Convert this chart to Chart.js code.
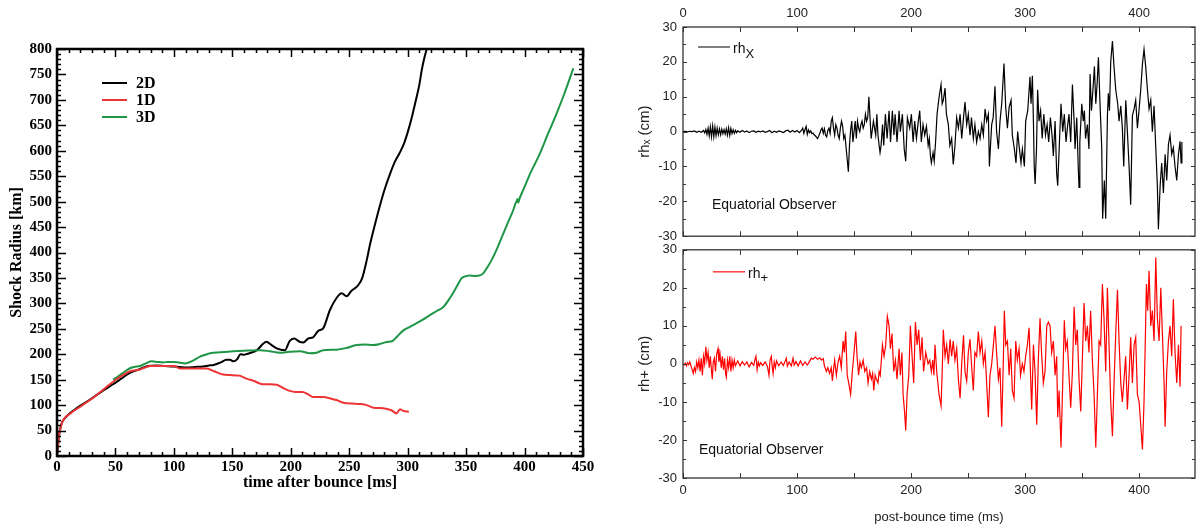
<!DOCTYPE html>
<html>
<head>
<meta charset="utf-8">
<script src="https://cdn.jsdelivr.net/npm/chart.js@4.4.1/dist/chart.umd.min.js"></script>
<style>
  html, body { margin: 0; padding: 0; background: #fff; }
  body { width: 1203px; height: 528px; position: relative; overflow: hidden; }
  canvas { position: absolute; }
  #shock { left: 0; top: 0; }
  #rhx { left: 600px; top: 0; }
  #rhp { left: 600px; top: 236px; }
</style>
</head>
<body>
<canvas id="shock" width="600" height="528"></canvas>
<canvas id="rhx" width="603" height="250"></canvas>
<canvas id="rhp" width="603" height="292"></canvas>
<script>
// shock radius [km] vs time after bounce [ms]
const shock2D = [
  [0,5],[1,25],[2,44],[4,64],[7,75],[10,82],[15,91],[20,99],[27,109],[34,120],[41,131],[48,141],
  [55,152],[62,163],[70,170],[78,177],[85,178],[92,177],[100,176],[105,175],[111,174],[118,175],
  [125,176],[130,178],[134,179],[140,184],[145,189],[148,189],[151,186],[154,190],[157,200],[160,199],
  [163,201],[166,203],[171,208],[176.5,221],[179,224.5],[183.6,218],[188,211.5],[195,208],[199,226],
  [203,231],[207,225],[210.7,223],[215,231],[219,233],[223.5,246],[227.7,251],[233.5,287],[239,310],
  [243.5,320],[247.8,314],[252,325],[255,330],[257.7,336],[261,349],[265,385],[268,418],[272,455],
  [276,490],[280,522],[285,555],[289,578],[293,595],[297,615],[300.5,640],[304,670],[307.7,706],
  [310,730],[312,758],[314,780],[316.3,800],[318,815]
];
const shock1D = [
  [0,3],[1,22],[2,44],[3,55],[4,64],[6,73],[8,78],[10,81],[14,88],[20,97],[27,108],[34,120],[41,133],
  [48,146],[55,157],[62,166],[71,170],[80,177],[90,177],[100,177],[105,172],[115,172],[128,172],
  [135,166],[142,160],[148,159],[156,158],[162,152],[168,148],[176,141],[182,141],[188,140],[194,133],
  [199,128],[204,126],[210,126],[215,121],[219,116],[228,116],[234,113],[239,110],[246,104],[253,103],
  [260,102],[265,100],[271,95],[279,94],[286,90],[290.5,84],[293.4,92],[296,89],[298,88],[301,87]
];
const shock3D = [
  [48,150],[50,153],[55,161],[62,172],[66,175],[71,177],[76,182],[81,186],[86,185],[91,184],[95,185],
  [99.5,185],[104,184],[109.5,182],[115,186],[122,195],[127,199],[131,202],[140,204],[151,206],
  [160,207],[173.6,208],[182,206],[190.8,203],[199,205],[208,206],[216.4,202],[222,203],[227.8,208],
  [239,209],[247,212],[256.4,218],[263,219],[270.6,218],[276,220],[282,224],[287,226],[291,235],
  [296.4,247],[302,254],[307.7,261],[313,268],[319,277],[325,285],[330.5,293],[336,310],[342,333],
  [346,349],[350.5,354],[353,355],[358,354],[361.8,355],[365,360],[367.6,369],[371.8,385],[376,405],
  [381.8,437],[386,460],[390.3,483],[392,495],[393.2,501],[394,505],[394.6,498],[395.5,505],
  [398.9,523],[405,556],[413,594],[420,633],[427.4,673],[434,712],[441.7,762]
];
const legendOrder = ['2D', '1D', '3D'];

// r*h_x [cm] vs post-bounce time [ms], equatorial observer
const rhX = [
  [0,0],[2,0.1],[4,-0.1],[6,0.1],[8,0],[10,0.2],[12,-0.2],[14,0.1],[16,-0.2],[18,0.3],[19,-0.4],
  [20,0.6],[21,-0.8],[22,1.0],[23,-1.2],[24,1.4],[25,-1.5],[26,1.6],[27,-1.5],[28,1.3],[29,-1.2],
  [30,1.0],[31,-0.9],[32,0.8],[33,-0.9],[34,0.7],[35,-0.6],[36,0.6],[37,-0.7],[38,0.8],[39,-1.0],
  [40,1.1],[41,-1.1],[42,0.9],[43,-0.6],[44,0.5],[45,-0.5],[46,0.4],[47,-0.3],[48,0.2],[50,-0.2],
  [52,0.3],[54,-0.1],[56,0.2],[58,-0.3],[60,0.1],[62,0.2],[64,-0.2],[66,0.1],[68,-0.1],[70,0.2],
  [72,-0.2],[74,0],[76,0.3],[78,-0.3],[80,0.1],[82,-0.2],[84,0.2],[86,0],[88,-0.3],[90,0.2],[92,0.4],
  [94,-0.2],[96,0.3],[98,-0.1],[100,0.3],[102,-0.3],[104,0.4],[105,1.0],[106,-0.5],[107,0.6],[108,1.5],
  [109,-0.8],[110,0.5],[111,-0.3],[112,0.2],[113,-0.6],[114,-0.4],[115,-0.9],[116,-1.2],[117,-1.6],
  [118,-2.0],[119,-1.3],[120,-0.5],[121,0.5],[122,1.0],[123,-0.5],[124,0.8],[125,-1.0],[126,-1.5],
  [127,0.3],[128,1.0],[129,-0.5],[130,3.0],[131,4.0],[132,1.0],[133,-1.0],[134,2.0],[135,1.0],
  [136,-1.0],[137,-2.0],[138,1.0],[139,3.0],[140,1.5],[141,-2.0],[142,-1.0],[143,-4.5],[144,-8.0],
  [145,-11.5],[146,-4.0],[147,0.5],[148,3.0],[149,-3.0],[150,0],[151,3.0],[152,-2.0],[153,3.0],
  [154,1.0],[155,0],[156,2.0],[157,3.0],[158,1.0],[159,2.0],[160,5.0],[161,3.0],[162,4.0],[163,10.0],
  [164,4.0],[165,-2.0],[166,0.5],[167,3.0],[168,1.0],[169,-1.0],[170,5.0],[171,-1.0],[172,-4.0],
  [172.8,-6.0],[173.7,-4.0],[175,2.0],[176,-4.0],[177.5,5.0],[179,-2.0],[180.7,6.0],[182,-3.0],
  [183.6,6.0],[185,-1.0],[186,5.0],[187.7,-3.0],[189.5,6.0],[190.6,0],[192.4,5.0],[194,-5.0],
  [195.3,-8.5],[196.8,4.0],[198.8,1.0],[200.3,5.0],[201.8,-3.0],[203.2,3.0],[204.7,-2.0],[206,2.0],
  [207.6,6.0],[209,-3.0],[210.5,2.0],[212,-1.0],[213.5,1.5],[215,-4.0],[216,-2.0],[217,-7.0],
  [217.8,-9.0],[219.3,-6.0],[220.3,-8.5],[221.5,-3.0],[222.8,5.0],[224.6,10.0],[226.3,13.5],
  [227.3,8.0],[228.3,9.0],[229.8,12.5],[231,5.0],[232.7,2.0],[234,-4.0],[235.6,-2.0],[237,-9.4],
  [238.5,-4.0],[240,4.0],[241.5,1.0],[243,5.0],[244.4,-2.0],[246,4.0],[247.3,8.5],[248.8,2.0],
  [250.2,5.0],[251.7,-1.0],[253,4.0],[254.6,-2.0],[256,2.0],[257.5,-3.0],[259,0],[260.5,-2.0],
  [262,2.0],[263.4,-1.0],[264.9,6.5],[266.3,3.0],[267.8,5.0],[268.7,-10.0],[269.5,-5.0],[270.7,2.0],
  [272,4.0],[273.6,13.0],[275,0],[276.6,-5.0],[278,3.0],[279.5,8.0],[281.5,19.5],[283,7.0],[284.5,1.0],
  [286,7.0],[287.7,9.0],[288.8,-1.0],[290.6,-5.0],[292,-9.0],[293.5,0],[294.7,-4.0],[296.4,-9.0],
  [297.6,-5.0],[299.4,-10.0],[300.5,3.0],[302.3,6.0],[304.3,15.7],[305.2,8.0],[306.4,16.0],[307.3,3.0],
  [308,-10.0],[308.8,-15.0],[310,-5.0],[311,12.0],[312.2,3.0],[313.6,6.0],[315,-2.0],[316.4,5.0],
  [317.9,-1.0],[319.3,2.0],[320.7,-3.0],[322.2,4.0],[323.6,-1.0],[324.8,-7.0],[326.3,3.0],[327.7,-12.0],
  [328.6,-15.5],[330,-4.0],[331.5,8.0],[333,0],[334.4,5.0],[335.9,-3.0],[337.4,2.0],[338.5,5.0],
  [340,-3.0],[341.5,13.5],[343,3.0],[343.8,-5.0],[345.3,4.0],[346.6,-10.0],[347.3,-16.0],[348,-3.0],
  [349.7,8.0],[351,3.0],[352,6.0],[353,-2.0],[354.6,2.0],[356,-5.0],[357,16.5],[358.2,6.0],[359.5,12.0],
  [360.8,18.7],[362,8.0],[363.2,14.0],[364.3,21.3],[365.7,8.0],[367.2,-4.6],[368,-25.0],[369.5,-14.0],
  [370.7,-25.0],[372.2,4.6],[373,11.0],[374,6.0],[375.1,20.0],[376.6,26.0],[378,18.5],[379.5,12.0],
  [381.2,8.0],[382.4,3.0],[383.9,7.4],[385.3,1.0],[386.5,-10.0],[388.3,9.0],[389.7,0],[391.2,-10.0],
  [392.6,-21.0],[394.1,4.6],[395.6,6.5],[397,9.0],[398.5,1.0],[400,6.5],[401.4,12.0],[402.9,19.4],
  [404.3,23.6],[405.8,18.5],[407.3,12.0],[408.7,6.5],[410.2,9.0],[411.6,0],[413.1,7.4],[414.6,-4.6],
  [416,-15.7],[416.9,-28.0],[418.4,-15.7],[419.8,-9.0],[421.3,-17.6],[422.8,-6.5],[424.2,-14.0],
  [425.7,-3.7],[427.1,-1.0],[428.6,-6.5],[430,-4.6],[431.5,-10.0],[433,-14.0],[434.5,-6.5],
  [435.9,-2.8],[436.8,-9.0],[437.5,-3.0]
];

// r*h_+ [cm] vs post-bounce time [ms], equatorial observer
const rhPlus = [
  [0,0],[1,-0.3],[2,0.2],[3,-0.5],[4,0.3],[5,-0.2],[6,0.5],[7,-0.5],[8,-1.5],[9,-2.5],[10,-1.0],
  [11,-2.0],[12,0.5],[13,-1.0],[14,1.0],[15,-2.0],[16,1.5],[17,-3.0],[18,2.0],[19,0],[20,4.5],[21,1.0],
  [22,3.0],[23,-1.0],[24,2.0],[25,-2.0],[25.7,-4.0],[26.5,0.5],[27.5,1.5],[28.5,-2.0],[29.5,2.5],
  [30.7,4.0],[31.5,0.5],[32.5,2.5],[33.5,-1.0],[34.5,2.0],[35.5,-1.5],[36.5,1.5],[37.3,-2.5],[38,-3.5],
  [39,1.0],[40,-1.0],[41,2.0],[42,-2.0],[43,1.0],[44,-1.0],[45,1.0],[46,-0.5],[48,0.8],[50,-0.5],
  [52,0.6],[54,-0.3],[56,0.5],[58,-0.8],[60,0.4],[62,-0.4],[63,1.0],[64,2.0],[65,-1.5],[66,0.5],
  [67,-0.5],[68,0.3],[70,-0.4],[72,0.5],[74,-0.6],[75.4,-3.0],[76.3,1.0],[77.5,2.0],[78.3,-1.0],
  [79,-2.5],[80,0.5],[81,-1.0],[82,0.8],[84,-0.5],[86,0.5],[88,-0.4],[89.5,0.6],[90.6,1.5],[91.5,-0.6],
  [93,0.5],[95,-0.5],[96.5,1.5],[97.5,-0.3],[99,0.6],[101,-0.5],[103,0.8],[105,-0.4],[107,0.5],
  [109,-0.3],[110.5,0.4],[112.5,1.5],[114,1.2],[116,1.8],[118,1.2],[120,1.6],[121.5,1.0],[123,1.4],
  [124,-0.5],[125.7,-2.0],[127,-1.0],[128.5,-2.5],[130,-1.0],[131,-4.5],[132,-1.5],[133,1.0],
  [134.5,-3.0],[136,0.5],[137.4,2.0],[138.8,-1.0],[140.4,6.0],[141.5,3.0],[142.7,8.5],[144,-3.0],
  [145.3,-5.0],[147,-8.0],[148.5,-2.0],[150,3.0],[151.5,8.5],[152.6,2.0],[154,-3.0],[155.2,0.5],
  [156.4,-1.0],[158,1.0],[159.4,-2.0],[161,-1.0],[162.3,-5.0],[163.7,-2.0],[165.2,-4.0],[166.3,-2.5],
  [167.3,-7.0],[168.5,-3.0],[169.6,-4.0],[171,-5.0],[172,-2.0],[173,-3.0],[174.9,5.0],[176.3,2.0],
  [177.8,5.0],[179.2,12.5],[180.7,10.0],[181.9,4.0],[183.3,8.0],[184.8,-2.0],[186.3,1.0],[187.7,-4.0],
  [189.5,4.0],[190.6,-3.0],[192,3.0],[193,-8.0],[194.4,-13.0],[195.3,-17.5],[196.5,-8.0],[198,-3.0],
  [199.4,10.0],[200.9,2.0],[202.3,-5.0],[203.8,11.0],[205.3,5.0],[206.7,9.0],[208.2,1.0],[209.6,7.0],
  [211,-2.0],[212.9,3.0],[214.9,0],[216.4,1.0],[217.8,-2.0],[219,1.0],[220,-3.0],[221,5.0],[222.5,-2.0],
  [224.5,-8.0],[226.3,-11.0],[227.4,-1.0],[228.3,9.0],[229.8,2.0],[231.2,5.0],[232.7,0],[234.2,6.5],
  [235.6,2.0],[237,6.0],[238.5,1.0],[240,4.0],[241.5,-4.0],[243,-9.0],[244.4,0],[246,7.5],[247.3,-2.0],
  [248.8,-4.5],[250.2,3.0],[251.7,6.5],[253.2,-1.0],[254.6,-7.0],[256,3.0],[257.5,2.0],[259,8.5],
  [260.5,3.0],[262,6.0],[263.4,0],[264.9,3.0],[266.3,-5.0],[267.8,-14.0],[269.2,-3.0],[270.7,0],
  [272.2,5.0],[273.6,10.0],[275,3.0],[276.6,-4.0],[278,-1.0],[279.5,-16.5],[281,2.0],[281.8,14.0],
  [283,5.0],[284.5,6.0],[286,-3.0],[287.4,4.0],[288.8,-7.0],[290.3,-9.0],[291.8,6.0],[293.2,1.0],
  [294.7,4.0],[296,-3.0],[297.6,0],[299,-2.0],[300.5,2.0],[302,5.0],[303.5,9.5],[304.9,-4.0],
  [305.8,-12.0],[307.3,5.0],[308.7,-2.0],[310.2,-16.0],[311.6,1.0],[313.1,12.0],[314.6,2.0],[316,-5.0],
  [317.5,-2.0],[319,10.0],[320.4,11.0],[321.9,10.0],[323.3,3.0],[324.8,6.0],[326.3,-3.0],[327.7,2.0],
  [328.6,-14.0],[329.8,-7.0],[331.5,-22.0],[333,-5.0],[334.4,11.5],[335.6,4.0],[337,6.0],[338.5,-3.0],
  [340,-11.5],[341.5,-2.0],[343,15.0],[344.4,5.0],[345.8,9.0],[347.3,-4.0],[348.8,-12.5],[350.2,1.0],
  [351.7,16.0],[353.2,6.0],[354.6,10.0],[356,3.0],[357.5,14.0],[359,1.0],[360.5,-8.0],[362,-22.0],
  [363.4,-8.0],[364.9,6.0],[366.3,5.0],[367.8,21.0],[369.2,12.0],[370.7,-2.0],[372.2,20.0],[373.6,5.0],
  [375.1,-10.0],[376.6,-19.0],[378,-5.0],[379.5,8.0],[381,19.5],[382.4,6.0],[383.9,-5.0],[385.3,-10.0],
  [386.8,-4.0],[388.2,2.0],[389.7,-12.0],[391.2,-3.0],[392.6,7.0],[394.1,-5.0],[395.6,5.0],[397,7.0],
  [398.5,-8.0],[400,-10.0],[401.4,-16.0],[402.9,-22.5],[404.3,-10.0],[405.2,3.0],[406.4,21.0],
  [407.5,14.0],[408.7,24.5],[410.2,10.0],[411.6,14.0],[413.1,6.0],[414.6,28.0],[416,12.0],[417.5,6.0],
  [419,20.0],[420.4,8.0],[421.9,-5.0],[422.8,-16.5],[424.2,-2.0],[425.7,6.0],[427.1,10.0],[428.6,2.0],
  [430,17.0],[431.5,3.0],[433,-5.0],[434.5,5.0],[435.9,-6.0],[436.8,10.0]
];

const SERIF = '"Liberation Serif", "DejaVu Serif", serif';
const SANS = '"Liberation Sans", Arial, sans-serif';

function pts(pairs) {
  return pairs.map(p => ({ x: p[0], y: p[1] }));
}

function line(label, pairs, color, width, smooth) {
  return {
    label, data: pts(pairs), borderColor: color, backgroundColor: color,
    borderWidth: width, pointRadius: 0, fill: false,
    tension: smooth ? 0.3 : 0, cubicInterpolationMode: smooth ? 'monotone' : 'default'
  };
}

// box round the plot area with ticks pointing inwards on all four sides
function frameTicks(o) {
  return {
    id: 'frameTicks',
    afterDatasetsDraw(chart) {
      const { ctx, chartArea: a, scales: { x, y } } = chart;
      ctx.save();
      ctx.strokeStyle = o.color;
      ctx.lineWidth = o.tickWidth;
      const marks = (scale, s, horiz) => {
        for (let v = scale.min; v <= scale.max + 1e-9; v += s.minor) {
          const len = Math.abs(v % s.major) < 1e-9 ? s.majorLen : s.minorLen;
          const p = Math.round(scale.getPixelForValue(v)) + 0.5;
          ctx.beginPath();
          if (horiz) {
            ctx.moveTo(p, a.bottom); ctx.lineTo(p, a.bottom - len);
            ctx.moveTo(p, a.top); ctx.lineTo(p, a.top + len);
          } else {
            ctx.moveTo(a.left, p); ctx.lineTo(a.left + len, p);
            ctx.moveTo(a.right, p); ctx.lineTo(a.right - len, p);
          }
          ctx.stroke();
        }
      };
      marks(x, o.x, true);
      marks(y, o.y, false);
      ctx.lineWidth = o.frameWidth;
      ctx.strokeRect(a.left, a.top, a.right - a.left, a.bottom - a.top);
      ctx.restore();
    }
  };
}

// keys and notes placed relative to the plot area
function notes(items) {
  return {
    id: 'notes',
    afterDraw(chart) {
      const { ctx, chartArea: a } = chart;
      ctx.save();
      let cursor = 0;
      items.forEach(it => {
        if (it.line) {
          ctx.strokeStyle = it.color;
          ctx.lineWidth = it.width;
          ctx.beginPath();
          ctx.moveTo(a.left + it.x1, a.top + it.y);
          ctx.lineTo(a.left + it.x2, a.top + it.y);
          ctx.stroke();
          return;
        }
        ctx.font = it.font;
        ctx.fillStyle = it.color;
        ctx.textAlign = 'left';
        ctx.textBaseline = it.baseline || 'middle';
        const x = it.follow ? cursor : a.left + it.x;
        ctx.fillText(it.text, x, a.top + it.y);
        cursor = x + ctx.measureText(it.text).width;
      });
      ctx.restore();
    }
  };
}

const noGrid = { display: false, drawTicks: false };
const common = {
  responsive: false, animation: false, events: [],
  plugins: { legend: { display: false }, tooltip: { enabled: false } }
};

// ---------- left: shock radius ----------
const shockSets = [
  line('1D', shock1D, '#ee3535', 2, true),
  line('3D', shock3D, '#1e9646', 2, true),
  line('2D', shock2D, '#000000', 2, true)
];
const shockKey = [];
legendOrder.forEach((name, i) => {
  const ds = shockSets.find(d => d.label === name);
  shockKey.push({ line: true, x1: 45, x2: 70, y: 34 + i * 17, color: ds.borderColor, width: 2 });
  shockKey.push({ text: name, x: 79, y: 35 + i * 17, font: 'bold 16px ' + SERIF, color: '#000' });
});

new Chart(document.getElementById('shock'), {
  type: 'line',
  data: { datasets: shockSets },
  options: {
    ...common,
    layout: { padding: { left: 0, top: 49, right: 17, bottom: 0 } },
    scales: {
      x: {
        type: 'linear', min: 0, max: 450,
        afterFit: s => { s.height = 72; },
        grid: noGrid, border: { display: false },
        ticks: { stepSize: 50, padding: 2, maxRotation: 0, autoSkip: false, color: '#000',
                 font: { family: SERIF, size: 15, weight: 'bold' } },
        title: { display: true, text: 'time after bounce [ms]', color: '#000',
                 font: { family: SERIF, size: 16, weight: 'bold' }, padding: { top: 0, bottom: 36 } }
      },
      y: {
        type: 'linear', min: 0, max: 800,
        afterFit: s => { s.width = 57; },
        grid: noGrid, border: { display: false },
        ticks: { stepSize: 50, padding: 5, autoSkip: false, color: '#000',
                 font: { family: SERIF, size: 15, weight: 'bold' } },
        title: { display: true, text: 'Shock Radius [km]', color: '#000',
                 font: { family: SERIF, size: 16, weight: 'bold' }, padding: { top: 7, bottom: 0 } }
      }
    }
  },
  plugins: [
    frameTicks({ color: '#000', tickWidth: 1.5, frameWidth: 2.5,
                 x: { minor: 10, major: 50, minorLen: 4, majorLen: 8 },
                 y: { minor: 10, major: 50, minorLen: 4, majorLen: 9 } }),
    notes(shockKey)
  ]
});

// ---------- right: gravitational wave strain ----------
function strainOptions(pos, axisHeight, pad, yTitle) {
  return {
    ...common,
    layout: { padding: pad },
    scales: {
      x: {
        type: 'linear', position: pos, min: 0, max: 449,
        afterFit: s => { s.height = axisHeight; },
        afterBuildTicks: s => { s.ticks = s.ticks.filter(t => t.value % 100 === 0); },
        grid: noGrid, border: { display: false },
        ticks: { stepSize: 100, padding: pos === 'top' ? 6 : 5, maxRotation: 0, color: '#222',
                 font: { family: SANS, size: 13 } },
        title: { display: pos === 'bottom', text: 'post-bounce time (ms)', color: '#222',
                 font: { family: SANS, size: 13 }, padding: { top: 0, bottom: 3 } }
      },
      y: {
        type: 'linear', min: -30, max: 30,
        afterFit: s => { s.width = 83; },
        grid: noGrid, border: { display: false },
        ticks: { stepSize: 10, padding: 6, autoSkip: false, color: '#222',
                 font: { family: SANS, size: 13 } },
        title: { display: true, text: yTitle, color: '#222',
                 font: { family: SANS, size: 15 }, padding: { top: 36, bottom: 0 } }
      }
    }
  };
}
const strainTicks = () => frameTicks({
  color: '#333', tickWidth: 1, frameWidth: 1.3,
  x: { minor: 50, major: 100, minorLen: 5, majorLen: 5 },
  y: { minor: 5, major: 10, minorLen: 3, majorLen: 4 }
});

new Chart(document.getElementById('rhx'), {
  type: 'line',
  data: { datasets: [line('rhx', rhX, '#000000', 1.2, false)] },
  options: strainOptions('top', 27, { left: 0, top: 0, right: 8, bottom: 7 }, 'rh\u2093 (cm)'),
  plugins: [
    strainTicks(),
    notes([
      { line: true, x1: 15, x2: 47, y: 20, color: '#000', width: 1 },
      { text: 'rh', x: 50, y: 26, baseline: 'alphabetic', font: '14px ' + SANS, color: '#111' },
      { text: 'X', follow: true, y: 31, baseline: 'alphabetic', font: '13px ' + SANS, color: '#111' },
      { text: 'Equatorial Observer', x: 29, y: 178, font: '14px ' + SANS, color: '#111' }
    ])
  ]
});

new Chart(document.getElementById('rhp'), {
  type: 'line',
  data: { datasets: [line('rh+', rhPlus, '#ff0000', 1.2, false)] },
  options: strainOptions('bottom', 50, { left: 0, top: 7, right: 8, bottom: 0 }, 'rh+ (cm)'),
  plugins: [
    strainTicks(),
    notes([
      { line: true, x1: 30, x2: 62, y: 22, color: '#ff4040', width: 1.5 },
      { text: 'rh', x: 65, y: 28, baseline: 'alphabetic', font: '14px ' + SANS, color: '#111' },
      { text: '+', follow: true, y: 32, baseline: 'alphabetic', font: '13px ' + SANS, color: '#111' },
      { text: 'Equatorial Observer', x: 16, y: 200, font: '14px ' + SANS, color: '#111' }
    ])
  ]
});
</script>
</body>
</html>
